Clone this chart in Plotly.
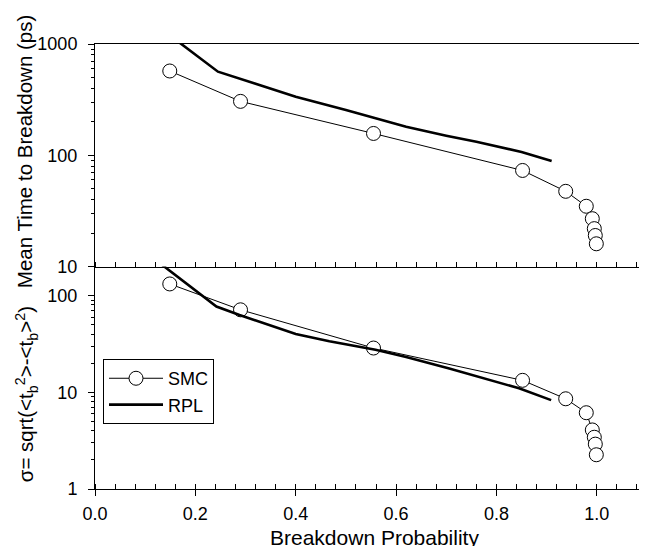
import numpy as np
import plotly.graph_objects as go

# ---- data ----
smc_p = [0.149, 0.290, 0.555, 0.852, 0.938, 0.979, 0.991, 0.995, 0.997, 0.999]
smc_mean = [572, 305, 157, 73, 47.4, 34.8, 26.9, 21.9, 19.0, 16.0]
smc_sigma = [132, 71.3, 28.7, 13.3, 8.57, 6.15, 4.08, 3.43, 2.91, 2.26]

rpl_p_mean = [0.13, 0.245, 0.32, 0.40, 0.50, 0.62, 0.70, 0.76, 0.85, 0.91]
rpl_mean = [1390, 564, 440, 335, 255, 180, 150, 132, 107, 89]

rpl_p_sigma = [0.13, 0.242, 0.288, 0.40, 0.467, 0.559, 0.62, 0.706, 0.845, 0.909]
rpl_sigma = [215, 77, 63, 40, 33.7, 27.6, 23.2, 17.6, 11.0, 8.3]

x_ticks = [0.0, 0.2, 0.4, 0.6, 0.8, 1.0]
x_ticklabels = ["0.0", "0.2", "0.4", "0.6", "0.8", "1.0"]
top_ticks = [10, 100, 1000]
bot_ticks = [1, 10, 100]

FONT = "Liberation Sans, Arial, sans-serif"

fig = go.Figure()

# top panel
fig.add_trace(go.Scatter(x=rpl_p_mean, y=rpl_mean, mode="lines", xaxis="x", yaxis="y",
                         line=dict(color="black", width=2.6), showlegend=False))
fig.add_trace(go.Scatter(x=smc_p, y=smc_mean, mode="lines+markers", xaxis="x", yaxis="y",
                         line=dict(color="black", width=1),
                         marker=dict(symbol="circle", size=14, color="white",
                                     line=dict(color="black", width=1)),
                         showlegend=False))
# bottom panel
fig.add_trace(go.Scatter(x=smc_p, y=smc_sigma, mode="lines+markers", xaxis="x2", yaxis="y2",
                         name="SMC",
                         line=dict(color="black", width=1),
                         marker=dict(symbol="circle", size=14, color="white",
                                     line=dict(color="black", width=1))))
fig.add_trace(go.Scatter(x=rpl_p_sigma, y=rpl_sigma, mode="lines", xaxis="x2", yaxis="y2",
                         name="RPL", line=dict(color="black", width=2.6)))

minor_top = [v * m for m in (10, 100) for v in range(2, 10)]
minor_bot = [v * m for m in (1, 10, 100) for v in range(2, 10) if v * m <= 200]

common_y = dict(type="log", showgrid=False, zeroline=False, showline=True,
                linecolor="black", linewidth=1, ticks="outside", ticklen=6,
                tickcolor="black", tickmode="array",
                tickfont=dict(family=FONT, size=18, color="black"),
                ticklabelstandoff=7)

# page body has an 8px margin: figure is 639x538 so plot lands at the reference pixels
fig.update_layout(
    width=639, height=538,
    margin=dict(l=87, r=0, t=36, b=57),
    paper_bgcolor="white", plot_bgcolor="white",
    font=dict(family=FONT, color="black"),
    xaxis=dict(domain=[0, 1], anchor="y", range=[0, 1.1], showgrid=False, zeroline=False,
               showline=True, linecolor="black", linewidth=1, mirror=True,
               showticklabels=False, ticks="", tickmode="array", tickvals=x_ticks,
               minor=dict(dtick=0.04, tick0=0, ticks="inside", ticklen=5,
                          tickcolor="black", showgrid=False)),
    xaxis2=dict(domain=[0, 1], anchor="y2", range=[0, 1.1], showgrid=False, zeroline=False,
                showline=True, linecolor="black", linewidth=1,
                ticks="outside", ticklen=6, tickcolor="black",
                tickmode="array", tickvals=x_ticks, ticktext=x_ticklabels,
                tickfont=dict(family=FONT, size=18, color="black"),
                ticklabelstandoff=2,
                minor=dict(dtick=0.04, tick0=0, ticks="inside", ticklen=5,
                           tickcolor="black", showgrid=False)),
    yaxis=dict(domain=[0.5, 1], anchor="x", range=[1, 3], tickvals=top_ticks,
               ticktext=[str(v) for v in top_ticks],
               minor=dict(tickmode="array", tickvals=minor_top, ticks="outside",
                          ticklen=3, tickcolor="black", showgrid=False),
               **common_y),
    yaxis2=dict(domain=[0, 0.5], anchor="x2", range=[0, np.log10(200)], tickvals=bot_ticks,
                ticktext=[str(v) for v in bot_ticks],
                minor=dict(tickmode="array", tickvals=minor_bot, ticks="outside",
                           ticklen=3, tickcolor="black", showgrid=False),
                **common_y),
    legend=dict(x=0.0145, y=0.292, xanchor="left", yanchor="top",
                bgcolor="white", bordercolor="black", borderwidth=1,
                font=dict(family=FONT, size=18, color="black"),
                itemwidth=54, tracegroupgap=0),
    annotations=[
        dict(text="Mean Time to Breakdown (ps)", textangle=-90, xref="paper", yref="paper",
             x=0, y=0.757, xshift=-71, xanchor="center", yanchor="middle", showarrow=False,
             font=dict(family=FONT, size=20.5, color="black")),
        dict(text="σ= sqrt(&lt;t<sub>b</sub><sup>2</sup>&gt;-&lt;t<sub>b</sub>&gt;<sup>2</sup>)",
             textangle=-90, xref="paper", yref="paper",
             x=0, y=0.213, xshift=-69, xanchor="center", yanchor="middle", showarrow=False,
             font=dict(family=FONT, size=20.5, color="black")),
        dict(text="Breakdown Probability", xref="paper", yref="paper",
             x=0.507, y=0, yshift=-35, xanchor="center", yanchor="top", showarrow=False,
             font=dict(family=FONT, size=21, color="black")),
    ],
)

fig.write_html("out.html")
